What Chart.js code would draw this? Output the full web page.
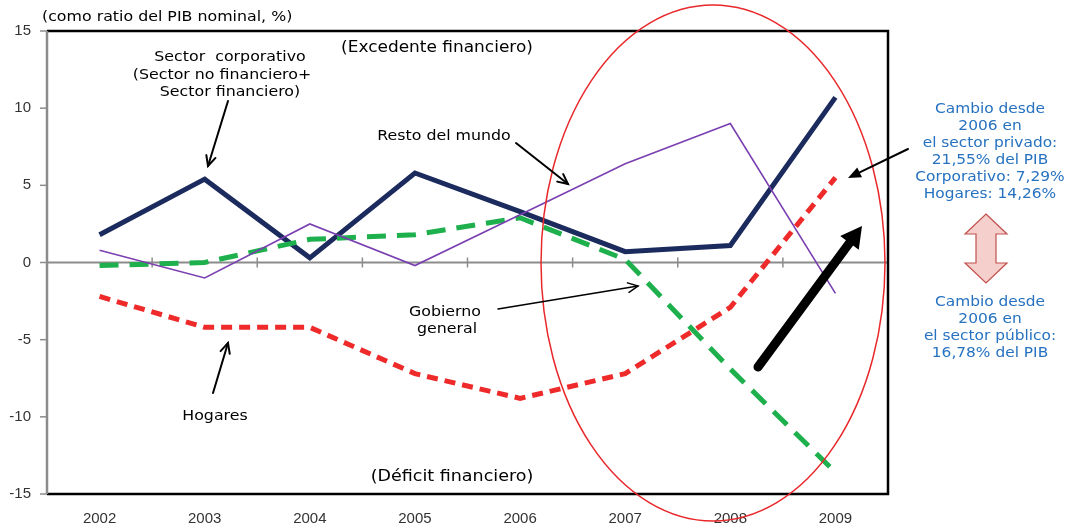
<!DOCTYPE html>
<html><head><meta charset="utf-8">
<script src="https://cdn.jsdelivr.net/npm/chart.js@4.4.1/dist/chart.umd.min.js"></script>
<style>html,body{margin:0;padding:0;background:#fff;}#wrap{width:1070px;height:526px;position:relative;}</style>
</head><body><div id="wrap"><canvas id="c" width="1070" height="526"></canvas></div>
<script>
const years = ['2002','2003','2004','2005','2006','2007','2008','2009'];
const corporativo = [1.8, 5.4, 0.3, 5.8, 3.3, 0.7, 1.1, 10.7];
const restoMundo = [0.8, -1.0, 2.5, -0.2, 3.1, 6.4, 9.0, -2.0];
const gobierno = [-0.2, 0.0, 1.5, 1.8, 2.9, 0.2, -6.9, -13.6];
const hogares = [-2.2, -4.2, -4.2, -7.2, -8.8, -7.2, -2.9, 5.5];
const yTicks = [-15, -10, -5, 0, 5, 10, 15];

function arrow(ctx, x1, y1, x2, y2, opts) {
  const o = Object.assign({w:1.5, head:10, color:'#000', open:true, headW:0.45}, opts||{});
  ctx.save();
  ctx.strokeStyle = o.color; ctx.fillStyle = o.color; ctx.lineWidth = o.w; ctx.lineCap='round';
  const a = Math.atan2(y2-y1, x2-x1);
  ctx.beginPath(); ctx.moveTo(x1,y1);
  if (o.open) ctx.lineTo(x2,y2); else ctx.lineTo(x2 - Math.cos(a)*o.head*0.8, y2 - Math.sin(a)*o.head*0.8);
  ctx.stroke();
  const hx1 = x2 - o.head*Math.cos(a - o.headW), hy1 = y2 - o.head*Math.sin(a - o.headW);
  const hx2 = x2 - o.head*Math.cos(a + o.headW), hy2 = y2 - o.head*Math.sin(a + o.headW);
  ctx.beginPath();
  if (o.open) { ctx.moveTo(hx1,hy1); ctx.lineTo(x2,y2); ctx.lineTo(hx2,hy2); ctx.stroke(); }
  else { ctx.moveTo(hx1,hy1); ctx.lineTo(x2,y2); ctx.lineTo(hx2,hy2); ctx.closePath(); ctx.fill(); }
  ctx.restore();
}
function txt(ctx, s, x, y, size, align, sx) {
  ctx.save();
  ctx.font = size + 'px "DejaVu Sans"';
  ctx.textAlign = align || 'center'; ctx.textBaseline = 'middle';
  ctx.translate(x, y); ctx.scale(sx || 1.13, 1);
  ctx.fillText(s, 0, 0);
  ctx.restore();
}

const deco = {
  id: 'deco',
  beforeDatasetsDraw(chart) {
    const ctx = chart.ctx, a = chart.chartArea, ys = chart.scales.y, xs = chart.scales.x;
    const y0 = ys.getPixelForValue(0);
    ctx.save();
    ctx.strokeStyle = '#8c8c8c'; ctx.lineWidth = 2;
    ctx.beginPath(); ctx.moveTo(a.left, y0); ctx.lineTo(a.right, y0); ctx.stroke();
    ctx.lineWidth = 1.5;
    for (let i = 1; i < years.length; i++) {
      const xp = xs.getPixelForValue(i - 0.5);
      ctx.beginPath(); ctx.moveTo(xp, y0 - 5); ctx.lineTo(xp, y0 + 5); ctx.stroke();
    }
    ctx.restore();
  },
  afterDraw(chart) {
    const ctx = chart.ctx, a = chart.chartArea;
    ctx.save();
    ctx.strokeStyle = '#000'; ctx.lineWidth = 2.5;
    ctx.beginPath(); ctx.moveTo(a.left, a.top); ctx.lineTo(a.right, a.top); ctx.lineTo(a.right, a.bottom); ctx.lineTo(a.left, a.bottom); ctx.stroke();
    ctx.strokeStyle = '#8c8c8c'; ctx.lineWidth = 2.5;
    ctx.beginPath(); ctx.moveTo(a.left, a.top); ctx.lineTo(a.left, a.bottom); ctx.stroke();
    ctx.lineWidth = 1.5;
    yTicks.forEach(v => { const yp = chart.scales.y.getPixelForValue(v); ctx.beginPath(); ctx.moveTo(a.left - 7, yp); ctx.lineTo(a.left, yp); ctx.stroke(); });

    // red ellipse
    ctx.strokeStyle = '#e8282b'; ctx.lineWidth = 1.5;
    ctx.beginPath(); ctx.ellipse(713, 263, 172, 258, 0, 0, Math.PI*2); ctx.stroke();

    // black texts
    ctx.fillStyle = '#000';
    txt(ctx, '(como ratio del PIB nominal, %)', 42, 17, 14, 'left');
    txt(ctx, '(Excedente financiero)', 437, 48, 15);
    txt(ctx, '(Déficit financiero)', 452, 477, 15.5);
    txt(ctx, 'Sector  corporativo', 230, 57, 14);
    txt(ctx, '(Sector no financiero+', 222, 75, 14);
    txt(ctx, 'Sector financiero)', 230, 92, 14);
    txt(ctx, 'Resto del mundo', 444, 136, 14);
    txt(ctx, 'Gobierno', 445, 312, 14);
    txt(ctx, 'general', 447, 329, 14);
    txt(ctx, 'Hogares', 215, 416, 14);

    // blue side text
    ctx.fillStyle = '#2672c0';
    const t1 = ['Cambio desde','2006 en','el sector privado:','21,55% del PIB','Corporativo: 7,29%','Hogares: 14,26%'];
    t1.forEach((s,i) => txt(ctx, s, 990, 109 + i*17, 14, 'center', 1.1));
    const t2 = ['Cambio desde','2006 en','el sector público:','16,78% del PIB'];
    t2.forEach((s,i) => txt(ctx, s, 990, 302 + i*17, 14, 'center', 1.1));

    // annotation arrows
    arrow(ctx, 228, 101, 208, 166, {w:2, head:11});
    arrow(ctx, 516, 143, 568, 184, {w:2, head:11});
    arrow(ctx, 498, 309, 638, 286, {w:1.5, head:11});
    arrow(ctx, 213, 393, 228, 343, {w:2, head:11});
    arrow(ctx, 908, 149, 848, 178, {w:2, head:14, open:false, headW:0.4});
    arrow(ctx, 758, 367, 862, 226, {w:9, head:24, open:false, headW:0.5});

    // pink double arrow
    ctx.fillStyle = '#f5cfcc'; ctx.strokeStyle = '#c0504d'; ctx.lineWidth = 1.2;
    const cx = 986, top = 214, bot = 283, hw = 21, sw = 10, hh = 20;
    ctx.beginPath();
    ctx.moveTo(cx, top);
    ctx.lineTo(cx + hw, top + hh); ctx.lineTo(cx + sw, top + hh);
    ctx.lineTo(cx + sw, bot - hh); ctx.lineTo(cx + hw, bot - hh);
    ctx.lineTo(cx, bot);
    ctx.lineTo(cx - hw, bot - hh); ctx.lineTo(cx - sw, bot - hh);
    ctx.lineTo(cx - sw, top + hh); ctx.lineTo(cx - hw, top + hh);
    ctx.closePath(); ctx.fill(); ctx.stroke();
    ctx.restore();
  }
};

new Chart(document.getElementById('c'), {
  type: 'line',
  data: {
    labels: years,
    datasets: [
      { label: 'Resto del mundo', data: restoMundo, borderColor: '#7a3fb0', borderWidth: 1.6, pointRadius: 0, tension: 0 },
      { label: 'Hogares', data: hogares, borderColor: '#ee2a2a', borderWidth: 5, borderDash: [11, 7], pointRadius: 0, tension: 0 },
      { label: 'Gobierno general', data: gobierno, borderColor: '#1fb04e', borderWidth: 5, borderDash: [19, 11], pointRadius: 0, tension: 0 },
      { label: 'Sector corporativo', data: corporativo, borderColor: '#1c2b5e', borderWidth: 5, pointRadius: 0, tension: 0, borderJoinStyle: 'miter' }
    ]
  },
  options: {
    responsive: false, animation: false,
    layout: { padding: { left: 0, right: 182, top: 31, bottom: 0 } },
    plugins: { legend: { display: false }, tooltip: { enabled: false } },
    scales: {
      x: {
        offset: true,
        grid: { display: false }, border: { display: false },
        ticks: { color: '#333', font: { family: '"Liberation Sans"', size: 15 }, padding: 8, maxRotation: 0 },
        afterFit: s => { s.height = 32; }
      },
      y: {
        min: -15, max: 15,
        grid: { display: false }, border: { display: false },
        ticks: { stepSize: 5, color: '#333', font: { family: '"Liberation Sans"', size: 15 }, padding: 8 },
        afterFit: s => { s.width = 47; }
      }
    }
  },
  plugins: [deco]
});
</script></body></html>
